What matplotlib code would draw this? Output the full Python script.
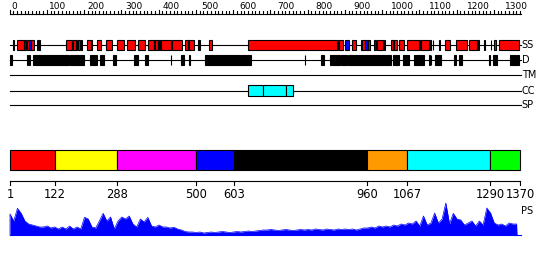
import matplotlib
matplotlib.use("Agg")
import matplotlib.pyplot as plt
from matplotlib.patches import Rectangle
import numpy as np

SEQ_LEN = 1370

# secondary structure: (start, end, kind)  H = helix, E = strand, B = other
ss_segments = [
    (10, 13, "B"), (21, 38, "H"), (38, 45, "E"), (46, 52, "H"), (52, 58, "E"),
    (58, 66, "H"), (74, 82, "B"), (152, 167, "H"), (167, 169, "B"), (169, 177, "H"),
    (178, 181, "B"), (183, 190, "H"), (192, 195, "B"), (208, 218, "H"), (218, 222, "B"),
    (235, 244, "H"), (258, 276, "H"), (287, 308, "H"), (314, 337, "H"), (344, 363, "H"),
    (371, 388, "H"), (388, 390, "B"), (390, 397, "H"), (397, 400, "B"), (400, 404, "H"),
    (404, 406, "B"), (406, 433, "H"), (437, 462, "H"), (471, 479, "H"), (479, 482, "B"),
    (482, 496, "H"), (507, 510, "B"), (535, 542, "H"), (641, 880, "H"), (882, 885, "B"),
    (885, 894, "H"), (901, 912, "E"), (919, 930, "H"), (944, 946, "B"), (946, 953, "H"),
    (955, 962, "E"), (962, 968, "H"), (978, 984, "E"), (985, 1003, "H"), (1005, 1008, "B"),
    (1023, 1030, "H"), (1030, 1032, "B"), (1032, 1041, "H"), (1045, 1059, "H"),
    (1068, 1100, "H"), (1100, 1102, "B"), (1104, 1127, "H"), (1129, 1132, "B"),
    (1136, 1137, "B"), (1152, 1155, "B"), (1170, 1182, "H"), (1197, 1229, "H"),
    (1234, 1254, "H"), (1256, 1259, "B"), (1274, 1276, "B"), (1292, 1293, "B"),
    (1299, 1306, "H"), (1313, 1367, "H"),
]
ss_colors = {"H": "#ff0000", "E": "#0000ff", "B": "#000000"}

disorder_segments = [
    (2, 7), (47, 48), (52, 55), (63, 159), (163, 199), (217, 235), (243, 254),
    (278, 286), (335, 345), (363, 372), (433, 434), (460, 467), (482, 485),
    (525, 648), (792, 793), (835, 844), (860, 887), (890, 905), (908, 1024),
    (1030, 1046), (1057, 1073), (1086, 1087), (1089, 1113), (1127, 1128),
    (1131, 1132), (1143, 1157), (1193, 1198), (1207, 1215), (1288, 1289),
    (1297, 1309), (1342, 1367),
]

cc_segments = [(640, 681), (681, 742), (742, 762)]

domain_bounds = [1, 122, 288, 500, 603, 960, 1067, 1290, 1370]
domain_colors = ["#ff0000", "#ffff00", "#ff00ff", "#0000ff", "#000000",
                 "#ff9900", "#00ffff", "#00ff00"]

# PS score, one value every 10 residues starting at residue 1
ps_step = 10
ps_values = [
    21, 14, 26.7, 21.7, 14, 11, 10, 9, 8, 8,
    9, 7, 8, 6, 8, 6, 9, 6, 8, 6,
    17.7, 16, 8, 7, 14, 21.7, 14, 18, 6, 14,
    18, 16, 19, 11, 8, 16, 13, 17.7, 9, 8,
    10, 8, 8, 7, 7.7, 6, 5, 3.5, 3, 3,
    2.5, 3, 2, 2.5, 3, 2.5, 3, 3.5, 3, 2.5,
    3, 3.5, 3, 3.5, 4, 3.5, 4, 4.5, 5, 5,
    5.5, 5, 4.5, 5, 5.5, 5, 4.5, 5, 5.5, 5,
    5.5, 5, 6, 5.5, 5, 6, 5.5, 5, 6, 5.5,
    6, 5.5, 6, 5, 6, 7, 7, 8, 7, 9,
    8, 9, 8, 10, 9, 11, 10, 12, 11, 14,
    9, 19, 10, 12, 22, 12, 16, 32, 11, 21.7,
    16, 15, 10, 12, 14, 9, 14, 10, 27, 22,
    12, 10, 11, 9, 12, 11, 11,
]

# layout (pixel based)
PX = 0.3725          # pixels per residue
LW = 0.8
END = 1373           # where track lines stop


def px(n):
    return n / PX


fig = plt.figure(figsize=(5.5, 2.6), dpi=100)
ax = fig.add_axes([0, 0, 1, 1])
ax.set_xlim(1 - px(10), 1 + px(540))
ax.set_ylim(260, 0)
ax.axis("off")

# top ruler (labels drift a little to the right, as in the original)
ruler_y = 14
ax.plot([0, END], [ruler_y, ruler_y], color="black", lw=LW)
for r in range(0, SEQ_LEN + 1, 10):
    h = 4.5 if r % 100 == 0 else 3
    ax.plot([r, r], [ruler_y, ruler_y - h], color="black", lw=LW)
for r in range(0, SEQ_LEN, 100):
    ax.text(1 + r + px(1 + 0.0075 * r), 6.5, str(r), ha="left", va="center",
            fontsize=6.5)


def track(y, segs, colors, label, h=10):
    ax.plot([1, END], [y, y], color="black", lw=LW, zorder=1)
    for (s, e), c in zip(segs, colors):
        ax.add_patch(Rectangle((s, y - h / 2), e - s, h, facecolor=c,
                               edgecolor="black", lw=LW, zorder=2))
    ax.text(END + px(0.5), y, label, ha="left", va="center", fontsize=7)


track(45, [(s, e) for s, e, _ in ss_segments],
      [ss_colors[k] for _, _, k in ss_segments], "SS")
track(60, disorder_segments, ["black"] * len(disorder_segments), "D")
track(75, [], [], "TM")
track(90.5, cc_segments, ["#00ffff"] * len(cc_segments), "CC", h=11)
track(105, [], [], "SP")

# domain bar
for s, e, c in zip(domain_bounds[:-1], domain_bounds[1:], domain_colors):
    ax.add_patch(Rectangle((s, 150), e - s, 20, facecolor=c,
                           edgecolor="black", lw=LW))

axis_y = 181
ax.plot([1, SEQ_LEN], [axis_y, axis_y], color="black", lw=LW)
for b in domain_bounds:
    ax.plot([b, b], [axis_y, axis_y + 4], color="black", lw=LW)
    ax.text(b, 195, str(b), ha="center", va="center", fontsize=8.3)

# PS profile
base = 235
ps_x = np.arange(len(ps_values)) * ps_step + 1
ps_y = base - np.array(ps_values, dtype=float)
fill_x = np.concatenate([[1], ps_x, [ps_x[-1] + 1]])
fill_y = np.concatenate([[base], ps_y, [base]])
ax.fill_between(fill_x, fill_y, base, color="#0000ff", lw=0)
ax.plot(fill_x, fill_y, color="#0000ff", lw=0.5)
ax.plot([1, END], [base, base], color="#0000ff", lw=LW)
ax.text(END, 211, "PS", ha="left", va="center", fontsize=7)

fig.savefig("out.png", dpi=100)
